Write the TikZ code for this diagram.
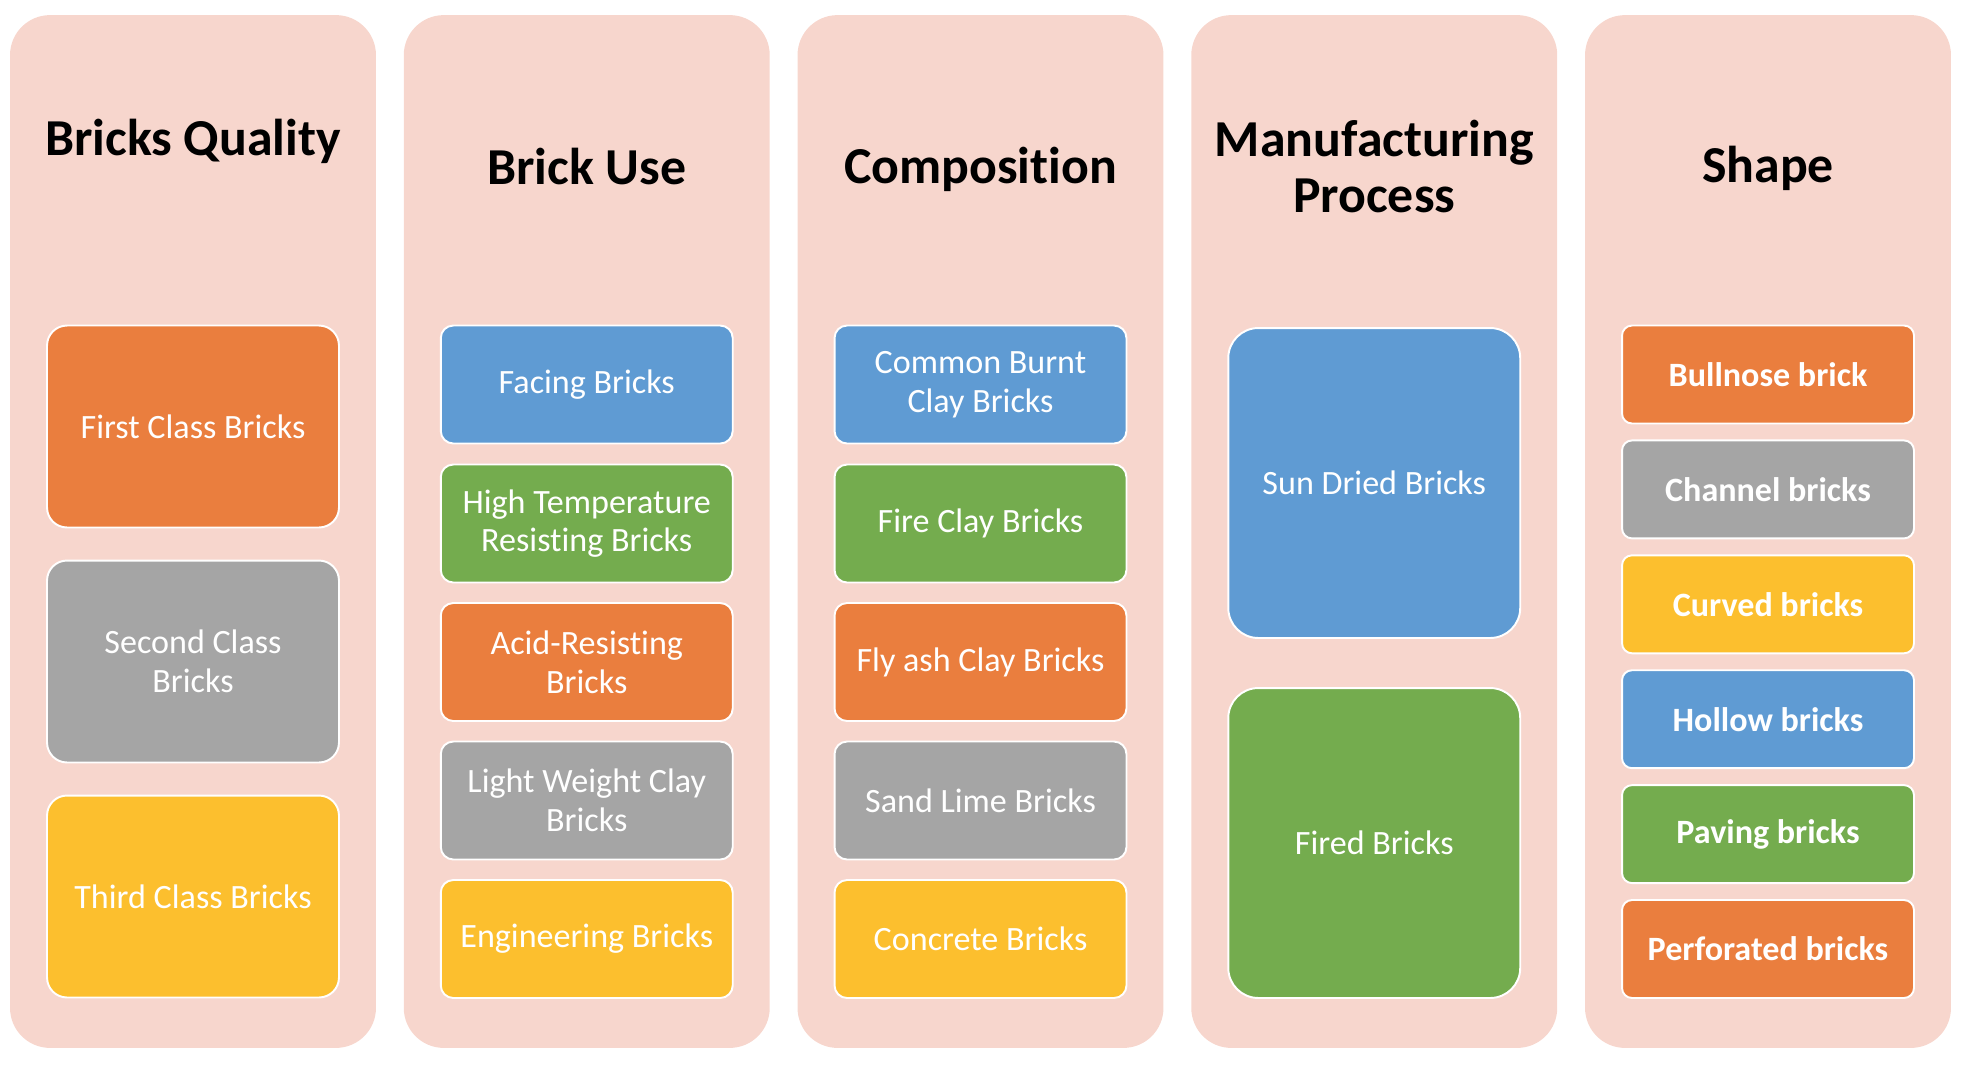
\documentclass[tikz,border=0pt]{standalone}
\usepackage{fontspec}
\setmainfont{Carlito}[Ligatures=NoCommon]
\usepackage{tikz}

\definecolor{panelpink}{HTML}{F7D6CD}
\definecolor{brickorange}{HTML}{EA7E3E}
\definecolor{brickgray}{HTML}{A5A5A5}
\definecolor{brickyellow}{HTML}{FCBF2E}
\definecolor{brickblue}{HTML}{5F9BD3}
\definecolor{brickgreen}{HTML}{74AC4E}

\tikzset{
	panel/.style={fill=panelpink, rounded corners=0.8cm, minimum width=7.32cm, minimum height=20.66cm, inner sep=0pt},
	title/.style={font=\fontsize{29.5}{31.5}\selectfont\bfseries, align=center, inner sep=0pt},
	brick/.style={draw=white, line width=1.1pt, text=white, align=center, inner sep=0pt, minimum width=5.84cm, font=\fontsize{19.4}{22}\selectfont},
	bigbrick/.style={brick, minimum height=4.04cm, rounded corners=0.4cm},
	midbrick/.style={brick, minimum height=2.36cm, rounded corners=0.25cm},
	tallbrick/.style={brick, minimum height=6.2cm, rounded corners=0.6cm},
	slimbrick/.style={brick, minimum height=1.96cm, rounded corners=0.2cm, font=\fontsize{19.4}{22}\selectfont\bfseries}
}

\begin{document}
\begin{tikzpicture}[x=0.02cm, y=-0.02cm]
					\useasboundingbox (0,0) rectangle (1964,1066);

					\node[panel] (quality) at (193,531.5) {};
					\node[panel] (use) at (586.75,531.5) {};
					\node[panel] (composition) at (980.5,531.5) {};
					\node[panel] (process) at (1374.25,531.5) {};
					\node[panel] (shape) at (1768,531.5) {};

					\node[title] (qualitytitle) at (193,141) {Bricks Quality};
					\node[title] (usetitle) at (586.75,166.5) {Brick Use};
					\node[title] (compositiontitle) at (980.5,169) {Composition};
					\node[title] (processtitle) at (1374.25,166.5) {Manufacturing\\Process};
					\node[title] (shapetitle) at (1768,168) {Shape};

					\node[bigbrick, fill=brickorange] (first) at (193,426.5) {First Class Bricks};
					\node[bigbrick, fill=brickgray] (second) at (193,661.5) {Second Class\\Bricks};
					\node[bigbrick, fill=brickyellow] (third) at (193,896.5) {Third Class Bricks};

					\node[midbrick, fill=brickblue] (facing) at (586.75,384.5) {Facing Bricks};
					\node[midbrick, fill=brickgreen] (hightemp) at (586.75,523.5) {High Temperature\\Resisting Bricks};
					\node[midbrick, fill=brickorange] (acid) at (586.75,662) {Acid-Resisting\\Bricks};
					\node[midbrick, fill=brickgray] (lightweight) at (586.75,800.5) {Light Weight Clay\\Bricks};
					\node[midbrick, fill=brickyellow] (engineering) at (586.75,939) {Engineering Bricks};

					\node[midbrick, fill=brickblue] (commonburnt) at (980.5,384.5) {Common Burnt\\Clay Bricks};
					\node[midbrick, fill=brickgreen] (fireclay) at (980.5,523.5) {Fire Clay Bricks};
					\node[midbrick, fill=brickorange] (flyash) at (980.5,662) {Fly ash Clay Bricks};
					\node[midbrick, fill=brickgray] (sandlime) at (980.5,800.5) {Sand Lime Bricks};
					\node[midbrick, fill=brickyellow] (concrete) at (980.5,939) {Concrete Bricks};

					\node[tallbrick, fill=brickblue] (sundried) at (1374.25,483) {Sun Dried Bricks};
					\node[tallbrick, fill=brickgreen] (fired) at (1374.25,843) {Fired Bricks};

					\node[slimbrick, fill=brickorange] (bullnose) at (1768,374.5) {Bullnose brick};
					\node[slimbrick, fill=brickgray] (channel) at (1768,489.4) {Channel bricks};
					\node[slimbrick, fill=brickyellow] (curved) at (1768,604.3) {Curved bricks};
					\node[slimbrick, fill=brickblue] (hollow) at (1768,719.2) {Hollow bricks};
					\node[slimbrick, fill=brickgreen] (paving) at (1768,834.1) {Paving bricks};
					\node[slimbrick, fill=brickorange] (perforated) at (1768,949) {Perforated bricks};
				\end{tikzpicture}
\end{document}
